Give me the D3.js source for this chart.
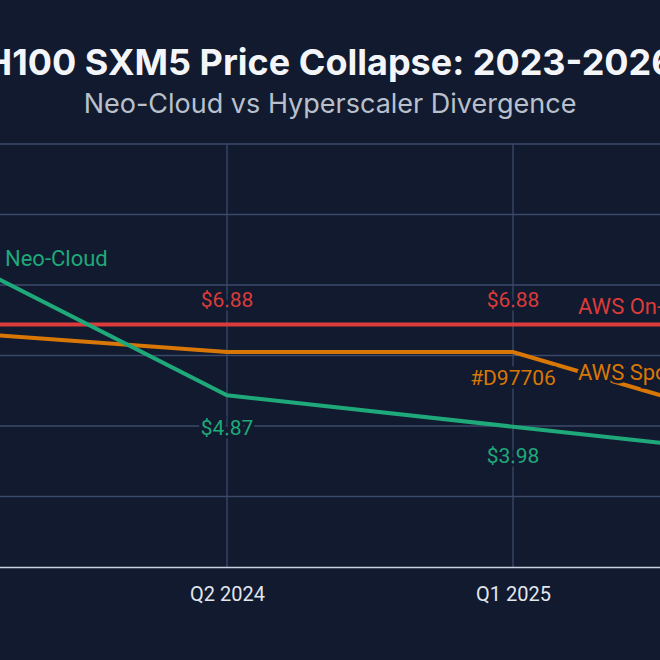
<!DOCTYPE html>
<html>
<head>
<meta charset="utf-8">
<script src="https://cdn.jsdelivr.net/npm/d3@7"></script>
<style>
  body { margin: 0; background: #111a2e; }
  text { font-family: Inter, "Noto Sans", sans-serif; }
</style>
</head>
<body>
<svg id="chart" width="660" height="660"></svg>
<script>
// data
const quarters = ["Q3 2023", "Q2 2024", "Q1 2025", "Q4 2025"]
const awsOnDemand = [6.88, 6.88, 6.88, 6.88]
const awsSpot = [6.69, 6.1, 6.1, 3.72]
const neoCloud = [9.0, 4.87, 3.98, 3.1]
const yTicks = [2, 4, 6, 8, 10, 12]

const bg = "#111a2e"
const svg = d3.select("#chart")
svg.append("rect").attr("width", 660).attr("height", 660).attr("fill", bg)

// plot is wider than the window, so left and right ends fall outside
const x = d3.scaleLinear().domain([0, quarters.length - 1]).range([-59, 799])
const y = d3.scaleLinear().domain([0, 12]).range([567, 144])

// grid
svg.append("g").selectAll("line").data(yTicks).join("line")
    .attr("x1", 0).attr("x2", 660)
    .attr("y1", d => y(d)).attr("y2", d => y(d))
    .attr("stroke", "#3b4a6b").attr("stroke-width", 1.3)
svg.append("g").selectAll("line").data(quarters).join("line")
    .attr("x1", (d, i) => x(i)).attr("x2", (d, i) => x(i))
    .attr("y1", y(12)).attr("y2", y(0))
    .attr("stroke", "#3b4a6b").attr("stroke-width", 1.3)

// x axis
const xAxis = d3.axisBottom(x).tickValues(d3.range(quarters.length))
    .tickFormat(i => quarters[i]).tickSize(0).tickPadding(20)
const gx = svg.append("g").attr("transform", `translate(0,${y(0)})`).call(xAxis)
gx.select(".domain").attr("stroke", "#c9d1e0").attr("stroke-width", 1.5)
gx.selectAll("text").attr("fill", "#e2e6ee").attr("font-size", 20)
    .style("font-family", "Roboto, Inter, sans-serif")

const line = d3.line().x((d, i) => x(i)).y(d => y(d))
const series = [
    { name: "AWS On-Demand", values: awsOnDemand, color: "#dc3b3b" },
    { name: "AWS Spot", values: awsSpot, color: "#D97706" },
    { name: "Neo-Cloud", values: neoCloud, color: "#1fa97a" }
]
series.forEach(s => {
    svg.append("path").datum(s.values).attr("d", line)
        .attr("fill", "none").attr("stroke", s.color).attr("stroke-width", 4)
})

function label(tx, ty, text, color, anchor, size) {
    svg.append("text").attr("x", tx).attr("y", ty).text(text)
        .attr("fill", color).attr("font-size", size || 21).attr("text-anchor", anchor || "middle")
        .attr("stroke", bg).attr("stroke-width", 7).attr("paint-order", "stroke")
        .style("font-family", "Roboto, Inter, sans-serif")
}

// value labels
;[1, 2].forEach(i => label(x(i), y(awsOnDemand[i]) - 17, "$" + awsOnDemand[i].toFixed(2), "#dc3b3b"))
;[1, 2].forEach(i => label(x(i), y(neoCloud[i]) + (i === 1 ? 4 : 0) + 36, "$" + neoCloud[i].toFixed(2), "#1fa97a"))
label(x(2), y(awsSpot[2]) + 33, "#D97706", "#D97706")

// series names
label(5, 266, "Neo-Cloud", "#1fa97a", "start", 22)
label(578, 314, "AWS On-Demand", "#dc3b3b", "start", 22)
label(578, 380, "AWS Spot", "#D97706", "start", 22)

// titles
svg.append("text").attr("x", 330).attr("y", 75).attr("text-anchor", "middle")
    .attr("fill", "#f3f5f9").attr("font-size", 36).attr("font-weight", 700)
    .text("H100 SXM5 Price Collapse: 2023-2026")
svg.append("text").attr("x", 330).attr("y", 113).attr("text-anchor", "middle")
    .attr("fill", "#b9c0cc").attr("font-size", 27)
    .text("Neo-Cloud vs Hyperscaler Divergence")
</script>
</body>
</html>
